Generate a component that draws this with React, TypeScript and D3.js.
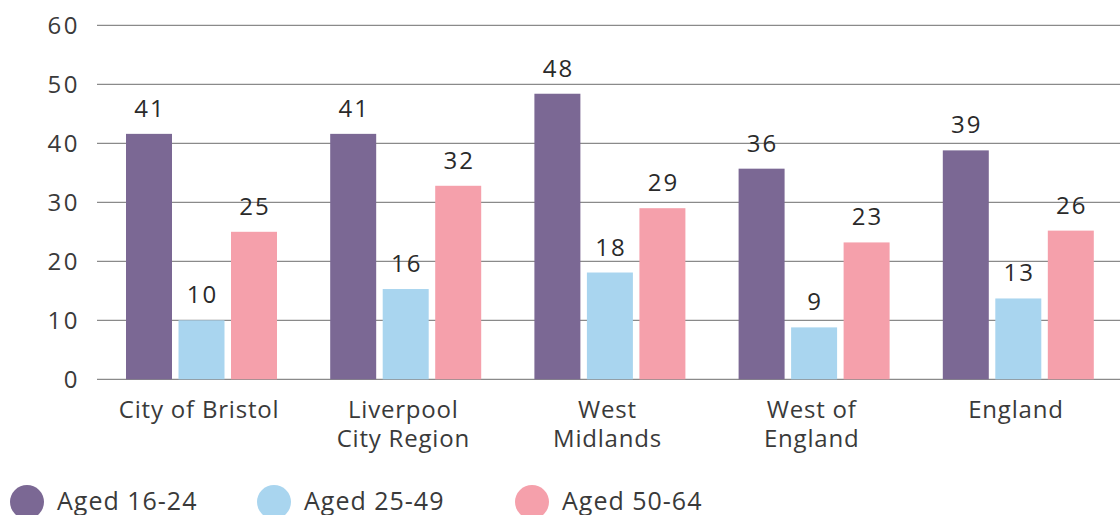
import React, { useEffect, useRef } from 'react';
import * as d3 from 'd3';

const categories: string[][] = [
  ['City of Bristol'],
  ['Liverpool', 'City Region'],
  ['West', 'Midlands'],
  ['West of', 'England'],
  ['England'],
];
const seriesNames = ['Aged 16-24', 'Aged 25-49', 'Aged 50-64'];
const seriesColors = ['#7b6894', '#a9d5ef', '#f5a0ab'];

const aged1624 = [41.6, 41.6, 48.4, 35.7, 38.8];
const aged2549 = [10.0, 15.3, 18.1, 8.8, 13.7];
const aged5064 = [25.0, 32.8, 29.0, 23.2, 25.2];

const labels1624 = ['41', '41', '48', '36', '39'];
const labels2549 = ['10', '16', '18', '9', '13'];
const labels5064 = ['25', '32', '29', '23', '26'];

const yTicks = [0, 10, 20, 30, 40, 50, 60];

const W = 1120;
const H = 515;
const FONT = '"Open Sans", Lato, sans-serif';
const TEXT = '#3a3a3a';

const App: React.FC = () => {
  const svgRef = useRef<SVGSVGElement>(null);

  useEffect(() => {
    if (!svgRef.current) return;
    const svg = d3.select(svgRef.current);
    svg.selectAll('*').remove();

    const values = [aged1624, aged2549, aged5064];
    const labels = [labels1624, labels2549, labels5064];

    const x0 = d3.scaleBand<number>()
      .domain(categories.map((_, i) => i))
      .range([97, 1118]);
    const x1 = d3.scaleBand<number>()
      .domain([0, 1, 2])
      .range([29, 180])
      .paddingInner(0.124);
    const y = d3.scaleLinear().domain([0, 60]).range([379.3, 25.3]);

    // gridlines
    svg.append('g')
      .selectAll('line')
      .data(yTicks)
      .enter()
      .append('line')
      .attr('x1', 97)
      .attr('x2', W)
      .attr('y1', d => y(d))
      .attr('y2', d => y(d))
      .attr('stroke', '#8a8a8a')
      .attr('stroke-width', 1.2);

    // y tick labels
    svg.append('g')
      .selectAll('text')
      .data(yTicks)
      .enter()
      .append('text')
      .attr('x', 80)
      .attr('y', d => y(d) + 8.5)
      .attr('text-anchor', 'end')
      .attr('font-family', FONT)
      .attr('font-size', 24)
      .attr('letter-spacing', 2.5)
      .attr('fill', TEXT)
      .text(d => d);

    // bars and value labels
    categories.forEach((_, ci) => {
      const g = svg.append('g').attr('transform', `translate(${x0(ci)},0)`);
      values.forEach((vals, si) => {
        g.append('rect')
          .attr('x', x1(si)!)
          .attr('y', y(vals[ci]))
          .attr('width', x1.bandwidth())
          .attr('height', y(0) - y(vals[ci]))
          .attr('fill', seriesColors[si]);
        g.append('text')
          .attr('x', x1(si)! + x1.bandwidth() / 2 + 1)
          .attr('y', y(vals[ci]) - 17)
          .attr('text-anchor', 'middle')
          .attr('font-family', FONT)
          .attr('font-size', 24)
          .attr('letter-spacing', 2)
          .attr('fill', '#2a2a2a')
          .text(labels[si][ci]);
      });
    });

    // category labels
    categories.forEach((lines, ci) => {
      const cx = x0(ci)! + x0.bandwidth() / 2;
      const t = svg.append('text')
        .attr('x', cx)
        .attr('y', 418)
        .attr('text-anchor', 'middle')
        .attr('font-family', FONT)
        .attr('font-size', 24)
        .attr('letter-spacing', 0.8)
        .attr('fill', TEXT);
      lines.forEach((line, li) => {
        t.append('tspan')
          .attr('x', cx)
          .attr('dy', li === 0 ? 0 : 29)
          .text(line);
      });
    });

    // legend
    const legendX = [27, 274, 532];
    seriesNames.forEach((name, si) => {
      svg.append('circle')
        .attr('cx', legendX[si])
        .attr('cy', 502)
        .attr('r', 17)
        .attr('fill', seriesColors[si]);
      svg.append('text')
        .attr('x', legendX[si] + 30)
        .attr('y', 510)
        .attr('font-family', FONT)
        .attr('font-size', 25)
        .attr('letter-spacing', 1)
        .attr('fill', TEXT)
        .text(name);
    });
  }, []);

  return (
    <svg
      ref={svgRef}
      width={W}
      height={H}
      style={{ position: 'absolute', left: 0, top: 0, background: '#fff' }}
    />
  );
};

export default App;
